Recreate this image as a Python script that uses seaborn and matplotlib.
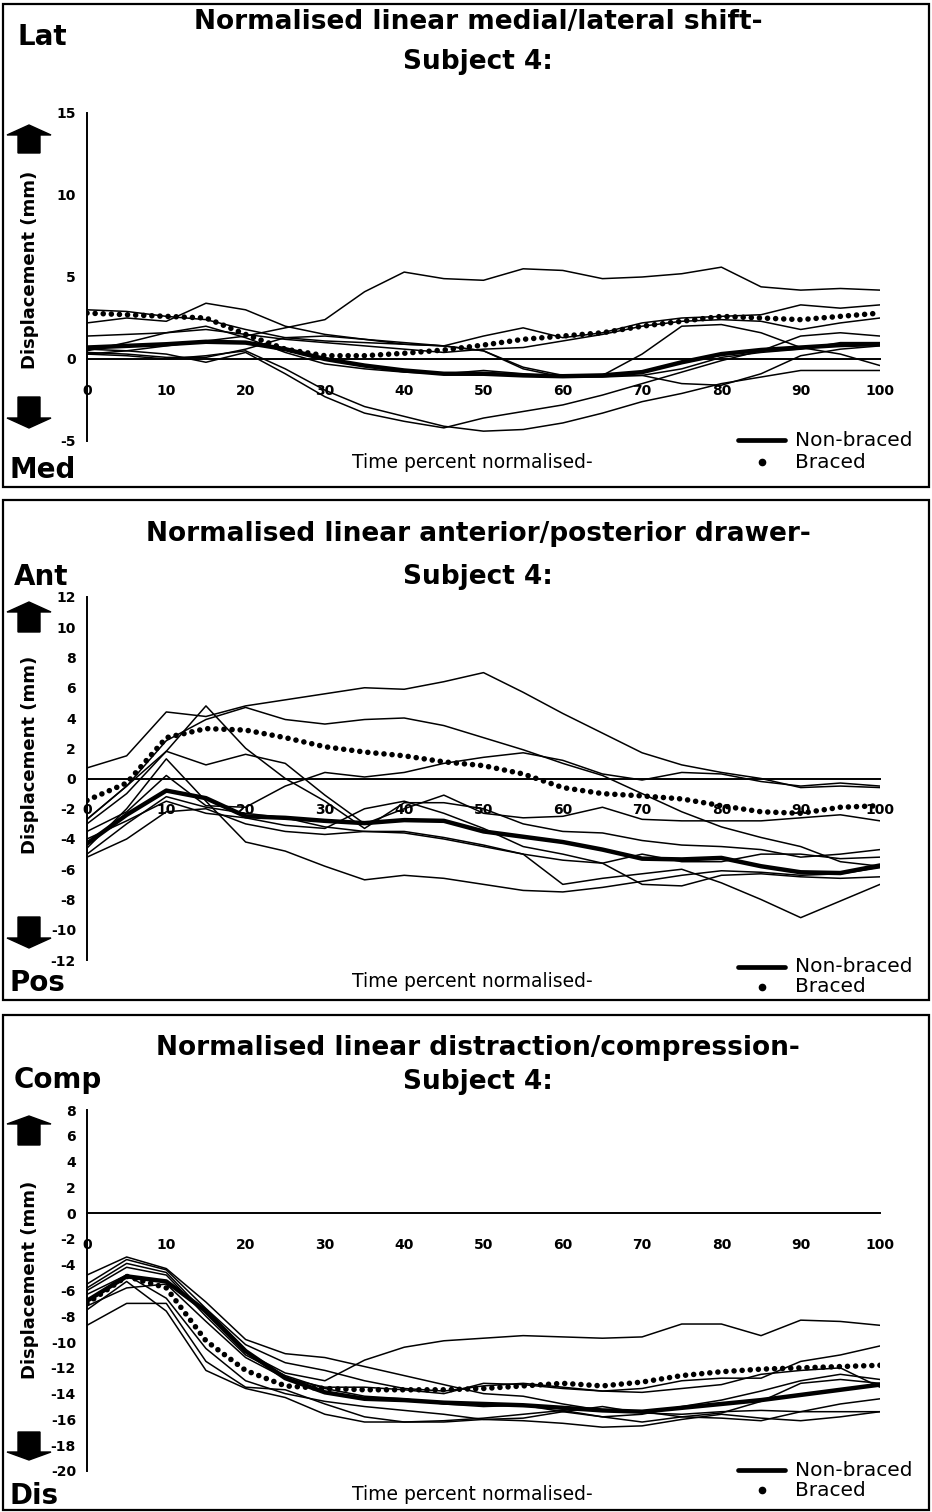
import numpy as np
import seaborn as sns
import matplotlib.pyplot as plt
from matplotlib.patches import Rectangle, Polygon
from matplotlib.lines import Line2D

sns.set_style('white')
plt.rcParams['font.family'] = ['DejaVu Sans']
plt.rcParams['axes.unicode_minus'] = False

W, H = 932, 1512

# time percent (x) for every series
pct = list(range(0, 101, 5))

# ---- medial/lateral shift (mm) ----
ml_trials = [
    [0.3, 0.5, 0.8, 1.1, 1.4, 1.9, 2.4, 4.1, 5.3, 4.9, 4.8, 5.5, 5.4, 4.9, 5.0, 5.2, 5.6, 4.4, 4.2, 4.3, 4.2],
    [2.2, 2.5, 2.3, 3.4, 3.0, 2.0, 1.5, 1.2, 1.0, 0.8, 0.5, -0.5, -1.0, -1.0, -1.0, -1.5, -1.6, -0.9, 0.2, 0.6, 0.8],
    [0.4, 0.3, 0.1, 0.1, 0.6, 1.3, 1.4, 1.2, 0.9, 0.8, 0.5, -0.6, -1.1, -1.0, 0.3, 2.0, 2.1, 1.6, 0.7, 0.3, -0.4],
    [0.6, 0.5, 0.3, -0.2, 0.4, -0.9, -2.3, -3.3, -3.8, -4.2, -3.6, -3.2, -2.8, -2.2, -1.5, -0.8, -0.1, 0.5, 1.4, 1.6, 1.4],
    [0.3, 0.2, 0.0, 0.2, 0.5, -0.6, -1.9, -2.9, -3.5, -4.1, -4.4, -4.3, -3.9, -3.3, -2.6, -2.1, -1.5, -1.1, -0.7, -0.7, -0.7],
    [3.0, 2.9, 2.6, 2.4, 1.8, 1.3, 1.1, 1.0, 0.9, 0.8, 1.4, 1.9, 1.3, 1.6, 2.2, 2.5, 2.6, 2.7, 3.3, 3.1, 3.3],
    [1.4, 1.5, 1.6, 1.8, 1.5, 1.2, 1.0, 0.8, 0.6, 0.4, 0.6, 0.7, 1.1, 1.5, 2.0, 2.3, 2.4, 2.3, 1.8, 2.2, 2.5],
    [0.5, 1.0, 1.6, 2.0, 1.3, 0.4, -0.3, -0.6, -0.8, -0.9, -0.7, -0.9, -1.1, -1.1, -1.0, -0.6, 0.1, 0.4, 0.6, 1.0, 1.0],
]
ml_nonbraced = [0.7, 0.8, 0.9, 1.05, 1.0, 0.6, 0.0, -0.4, -0.7, -0.9, -0.9, -1.0, -1.05, -1.0, -0.8, -0.2, 0.3, 0.55, 0.7, 0.85, 0.9]
ml_braced = [2.8, 2.7, 2.6, 2.5, 1.5, 0.6, 0.2, 0.2, 0.35, 0.55, 0.85, 1.2, 1.4, 1.6, 2.0, 2.3, 2.6, 2.5, 2.4, 2.6, 2.8]

# ---- anterior/posterior drawer (mm) ----
ap_trials = [
    [0.7, 1.5, 4.4, 4.1, 4.8, 5.2, 5.6, 6.0, 5.9, 6.4, 7.0, 5.7, 4.3, 3.0, 1.7, 0.9, 0.4, 0.0, -0.6, -0.5, -0.6],
    [-2.7, -0.5, 2.5, 3.9, 4.7, 3.9, 3.6, 3.9, 4.0, 3.5, 2.7, 1.9, 1.0, 0.2, -1.0, -2.2, -3.2, -3.9, -4.5, -5.5, -5.8],
    [-4.6, -2.0, 1.3, -1.5, -4.2, -4.8, -5.8, -6.7, -6.4, -6.6, -7.0, -7.4, -7.5, -7.2, -6.8, -6.4, -6.1, -6.2, -6.4, -6.3, -5.9],
    [-5.0, -3.0, -1.2, -1.9, -2.3, -2.6, -3.2, -3.5, -3.6, -4.0, -4.5, -5.0, -7.0, -6.6, -6.3, -6.0, -6.9, -8.0, -9.2, -8.1, -7.0],
    [-3.0, -1.0, 1.8, 4.8, 2.0, 0.0, -1.5, -3.3, -1.6, -1.6, -2.0, -3.0, -3.5, -3.6, -4.1, -4.4, -4.5, -4.7, -5.2, -5.0, -4.7],
    [-2.7, -0.5, 1.8, 0.9, 1.6, 1.0, -1.1, -3.0, -2.0, -1.1, -2.3, -2.6, -2.5, -1.9, -2.7, -2.8, -2.8, -2.8, -2.6, -2.4, -2.8],
    [-3.5, -2.2, 0.2, -1.8, -1.9, -0.5, 0.4, 0.1, 0.4, 1.0, 1.4, 1.7, 1.2, 0.3, -0.1, 0.4, 0.3, -0.2, -0.5, -0.3, -0.5],
    [-4.0, -2.8, -1.5, -2.3, -2.6, -3.1, -3.3, -2.0, -1.5, -2.3, -3.3, -4.5, -5.0, -5.6, -7.0, -7.1, -6.4, -6.3, -6.5, -6.6, -6.5],
    [-5.2, -4.0, -2.2, -2.0, -3.0, -3.5, -3.7, -3.5, -3.5, -3.9, -4.4, -5.0, -5.4, -5.6, -5.0, -5.5, -5.5, -5.0, -5.0, -5.3, -5.2],
]
ap_nonbraced = [-4.3, -2.4, -0.8, -1.3, -2.5, -2.6, -2.8, -2.95, -2.75, -2.8, -3.5, -3.85, -4.2, -4.7, -5.3, -5.35, -5.25, -5.8, -6.2, -6.25, -5.75]
ap_braced = [-1.45, -0.3, 2.7, 3.3, 3.2, 2.7, 2.1, 1.75, 1.5, 1.1, 0.85, 0.3, -0.6, -1.0, -1.15, -1.35, -1.8, -2.2, -2.3, -1.9, -1.8]

# ---- distraction/compression (mm) ----
dc_trials = [
    [-8.7, -7.0, -7.0, -11.5, -13.5, -13.7, -14.8, -15.8, -16.2, -16.2, -16.0, -16.1, -16.3, -16.6, -16.5, -16.0, -15.6, -15.9, -16.1, -15.8, -15.4],
    [-4.8, -3.4, -4.3, -6.9, -9.8, -10.9, -11.2, -11.9, -12.6, -13.3, -14.0, -14.2, -14.8, -15.3, -15.4, -15.8, -15.5, -14.6, -13.2, -12.9, -13.2],
    [-5.5, -3.6, -4.4, -7.4, -10.2, -11.6, -12.2, -13.0, -13.6, -13.8, -13.4, -13.2, -13.5, -13.8, -13.6, -13.0, -12.8, -12.8, -11.5, -11.0, -10.3],
    [-6.0, -4.2, -4.8, -8.0, -11.0, -12.6, -13.6, -14.2, -14.4, -14.8, -15.0, -14.9, -15.4, -15.8, -15.6, -15.0, -14.5, -13.8, -13.0, -12.5, -12.9],
    [-7.5, -5.3, -7.6, -12.2, -13.6, -14.3, -15.6, -16.2, -16.2, -16.1, -15.9, -15.6, -15.3, -15.8, -16.2, -15.8, -15.9, -16.1, -15.4, -14.8, -14.4],
    [-6.3, -4.8, -6.6, -10.5, -13.0, -14.0, -14.6, -15.0, -15.3, -15.6, -16.0, -15.9, -15.4, -15.0, -15.5, -15.6, -15.4, -15.3, -15.4, -15.4, -15.4],
    [-5.8, -3.9, -4.6, -7.8, -10.8, -12.4, -13.0, -11.4, -10.4, -9.9, -9.7, -9.5, -9.6, -9.7, -9.6, -8.6, -8.6, -9.5, -8.3, -8.4, -8.7],
    [-7.2, -5.8, -5.5, -8.4, -11.2, -12.8, -13.5, -13.5, -13.7, -14.0, -13.2, -13.3, -13.6, -13.8, -13.9, -13.6, -13.3, -12.5, -12.2, -12.0, -13.5],
]
dc_nonbraced = [-6.8, -4.9, -5.3, -7.6, -10.7, -12.8, -13.9, -14.4, -14.5, -14.7, -14.8, -14.9, -15.1, -15.3, -15.4, -15.1, -14.8, -14.5, -14.1, -13.7, -13.3]
dc_braced = [-7.0, -4.9, -5.8, -9.9, -12.2, -13.4, -13.6, -13.7, -13.7, -13.7, -13.6, -13.4, -13.2, -13.4, -13.1, -12.6, -12.3, -12.1, -12.0, -11.9, -11.8]

fig = plt.figure(figsize=(9.32, 15.12), dpi=100)


def fx(px):
    return px / W


def fy(py):
    return 1 - py / H


def ftext(x, y, s, **kw):
    fig.text(fx(x), fy(y), s, color='black', **kw)


def block_arrow(cx, tip, base, end):
    # block arrow in pixel coordinates (tip above end -> up arrow)
    pts = [(cx, tip), (cx + 22, base), (cx + 11, base), (cx + 11, end),
           (cx - 11, end), (cx - 11, base), (cx - 22, base)]
    fig.add_artist(Polygon([(fx(a), fy(b)) for a, b in pts], closed=True,
                           transform=fig.transFigure, color='black'))


def draw_panel(p, trials, nonbraced, braced):
    top, bot = p['box']
    fig.add_artist(Rectangle((fx(3), fy(bot)), fx(929) - fx(3), (bot - top) / H,
                             transform=fig.transFigure, fill=False, lw=1.6, ec='black'))
    y_hi, y_lo, step = p['ylim']
    hi_px, lo_px = p['ypx']
    ax = fig.add_axes([fx(87), fy(lo_px), fx(880) - fx(87), (lo_px - hi_px) / H])
    ax.patch.set_alpha(0)

    for t in trials:
        sns.lineplot(x=pct, y=t, ax=ax, color='black', lw=1.1)
    sns.lineplot(x=pct, y=nonbraced, ax=ax, color='black', lw=3.2)
    sns.lineplot(x=pct, y=braced, ax=ax, color='black', lw=4.0,
                 linestyle=(0, (0.01, 1.45)), dash_capstyle='round')

    ax.set_xlim(0, 100)
    ax.set_ylim(y_lo, y_hi)
    ax.set_xticks(range(0, 101, 10))
    yt = np.arange(y_lo, y_hi + 0.1, step)
    ax.set_yticks(yt)
    ax.set_yticklabels([f'{v:g}' for v in yt])
    for s in ['top', 'right']:
        ax.spines[s].set_visible(False)
    ax.spines['bottom'].set_position(('data', 0))
    for s in ['left', 'bottom']:
        ax.spines[s].set_linewidth(1.4)
        ax.spines[s].set_color('black')
    ax.tick_params(axis='x', direction='out', length=4, width=1.2, pad=14,
                   labelsize=10, colors='black')
    ax.tick_params(axis='y', direction='out', length=4, width=1.2, pad=4,
                   labelsize=10, colors='black')
    for lab in ax.get_xticklabels() + ax.get_yticklabels():
        lab.set_fontweight('bold')
    ax.set_xlabel('')
    ax.set_ylabel('')

    # titles and direction words
    ftext(478, p['title_y'], p['title'], ha='center', va='center', fontsize=19, fontweight='bold')
    ftext(478, p['subj_y'], 'Subject 4:', ha='center', va='center', fontsize=19, fontweight='bold')
    ftext(p['up_x'], p['up_y'], p['up'], ha='left', va='center', fontsize=20, fontweight='bold')
    ftext(10, p['down_y'], p['down'], ha='left', va='center', fontsize=20, fontweight='bold')
    ftext(30, p['ylab_y'], 'Displacement (mm)', ha='center', va='center', rotation=90,
          fontsize=13, fontweight='bold')
    ftext(472, p['xlab_y'], 'Time percent normalised-', ha='center', va='center', fontsize=13.5)

    # legend
    ly1, ly2 = p['leg_y']
    fig.add_artist(Line2D([fx(738), fx(785)], [fy(ly1), fy(ly1)], transform=fig.transFigure,
                          color='black', lw=3.4))
    fig.add_artist(Line2D([fx(762)], [fy(ly2)], transform=fig.transFigure, color='black',
                          marker='o', markersize=4.5, lw=0))
    ftext(795, ly1, 'Non-braced', ha='left', va='center', fontsize=14.5)
    ftext(795, ly2, 'Braced', ha='left', va='center', fontsize=14.5)

    # arrows
    ua, da = p['arrows']
    block_arrow(29, ua[0], ua[1], ua[2])
    block_arrow(29, da[0], da[1], da[2])


panels = [
    dict(box=(4, 487), ylim=(15, -5, 5), ypx=(113, 441),
         title='Normalised linear medial/lateral shift-', title_y=22, subj_y=62,
         up='Lat', up_x=18, up_y=37, down='Med', down_y=470, ylab_y=270, xlab_y=463,
         leg_y=(440, 462), arrows=((125, 135, 153), (428, 418, 397))),
    dict(box=(500, 1000), ylim=(12, -12, 2), ypx=(597, 960),
         title='Normalised linear anterior/posterior drawer-', title_y=534, subj_y=577,
         up='Ant', up_x=14, up_y=577, down='Pos', down_y=983, ylab_y=755, xlab_y=982,
         leg_y=(967, 987), arrows=((602, 612, 632), (948, 938, 917))),
    dict(box=(1015, 1510), ylim=(8, -20, 2), ypx=(1110, 1471),
         title='Normalised linear distraction/compression-', title_y=1048, subj_y=1082,
         up='Comp', up_x=14, up_y=1080, down='Dis', down_y=1496, ylab_y=1280, xlab_y=1494,
         leg_y=(1470, 1490), arrows=((1116, 1124, 1145), (1460, 1452, 1432))),
]

draw_panel(panels[0], ml_trials, ml_nonbraced, ml_braced)
draw_panel(panels[1], ap_trials, ap_nonbraced, ap_braced)
draw_panel(panels[2], dc_trials, dc_nonbraced, dc_braced)

fig.savefig('out.png', dpi=100, facecolor='white')
